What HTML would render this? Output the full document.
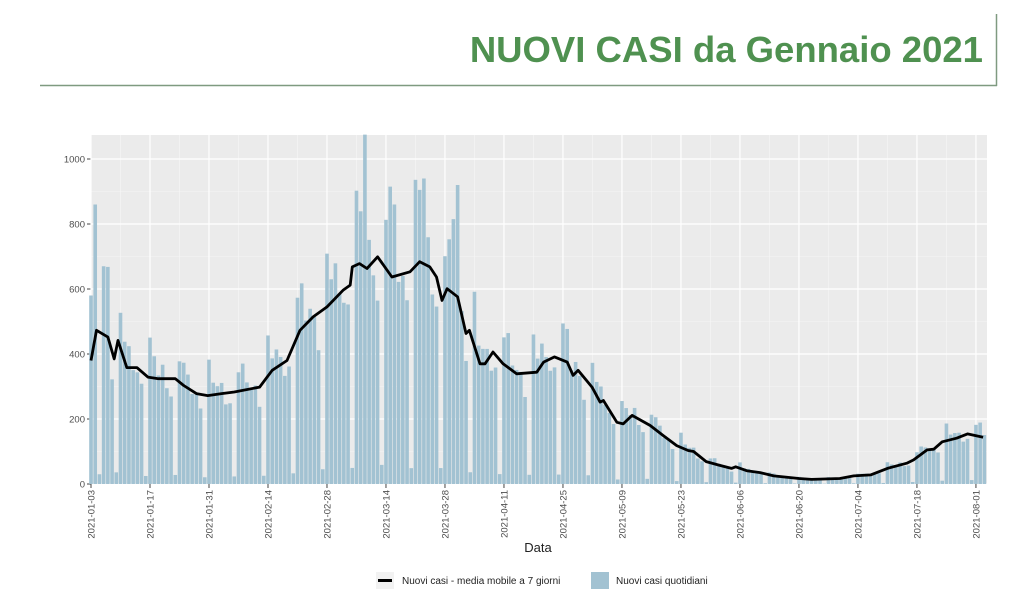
<!DOCTYPE html>
<html><head><meta charset="utf-8"><style>
body{margin:0;background:#fff;width:1024px;height:615px;overflow:hidden;font-family:"Liberation Sans",sans-serif}
</style></head><body>
<svg id="s" width="1024" height="615" xmlns="http://www.w3.org/2000/svg" style="position:absolute;left:0;top:0">
<text x="983" y="62" text-anchor="end" font-family="Liberation Sans" font-weight="bold" font-size="36.5" fill="#4f9150">NUOVI CASI da Gennaio 2021</text>
<line x1="40" y1="85.5" x2="997" y2="85.5" stroke="#7f9a80" stroke-width="1.5"/>
<line x1="996.5" y1="14" x2="996.5" y2="86" stroke="#7f9a80" stroke-width="1.5"/>
<rect x="91" y="135" width="896" height="349" fill="#ebebeb"/>
<g id="g"></g>
<text x="538" y="552" text-anchor="middle" font-size="13" fill="#222">Data</text>
<rect x="376" y="572" width="18" height="17" fill="#f2f2f2"/>
<line x1="378" y1="580.5" x2="392" y2="580.5" stroke="#000" stroke-width="3"/>
<text x="402" y="584" font-size="10" fill="#222">Nuovi casi - media mobile a 7 giorni</text>
<rect x="591" y="572" width="18" height="17" fill="#a2c2d2"/>
<text x="616" y="584" font-size="10" fill="#222">Nuovi casi quotidiani</text>
</svg>
<script>
var g=document.getElementById('g'),h='';
function X(d){return 91+d*4.214}function Y(v){return 484-v*0.325}
for(var v=100;v<=1000;v+=200)h+='<line x1="91" x2="987" y1="'+Y(v)+'" y2="'+Y(v)+'" stroke="#f6f6f6" stroke-width="0.6"/>';
for(var d=7;d<213;d+=14)h+='<line y1="135" y2="484" x1="'+X(d)+'" x2="'+X(d)+'" stroke="#f6f6f6" stroke-width="0.6"/>';
for(var v=0;v<=1000;v+=200){h+='<line x1="91" x2="987" y1="'+Y(v)+'" y2="'+Y(v)+'" stroke="#fff" stroke-width="1.2"/>';
h+='<line x1="87" x2="91" y1="'+Y(v)+'" y2="'+Y(v)+'" stroke="#444"/>';
h+='<text x="85" y="'+(Y(v)+3.5)+'" text-anchor="end" font-size="9.5" fill="#4d4d4d">'+v+'</text>';}
var labs=['01-03','01-17','01-31','02-14','02-28','03-14','03-28','04-11','04-25','05-09','05-23','06-06','06-20','07-04','07-18','08-01'];
for(var i=0;i<16;i++){var x=X(i*14);h+='<line y1="135" y2="484" x1="'+x+'" x2="'+x+'" stroke="#fff" stroke-width="1.2"/>';
h+='<line y1="484" y2="488" x1="'+x+'" x2="'+x+'" stroke="#444"/>';
h+='<text transform="translate('+(x+3.5)+',490) rotate(-90)" text-anchor="end" font-size="9.5" fill="#4d4d4d">2021-'+labs[i]+'</text>';}
var K=[[0,380],[1.3,473],[4,452],[5.5,385],[6.4,442],[8.5,358],[10.9,358],[13.5,329],[16,324],[20,324],[22,303],[25,278],[27.7,272],[31,278],[34,283],[40,298],[43,350],[46.5,380],[49.6,473],[52.7,514],[56,545],[59.8,596],[61.5,612],[62,668],[63.7,678],[65.5,663],[68,699],[71.4,637],[75.7,653],[78,684],[80.4,668],[82,637],[83.3,565],[84.5,601],[87,576],[89,463],[89.8,473],[92.3,370],[93.5,370],[95.4,406],[97.8,370],[101,339],[105.8,344],[107.4,375],[110,391],[113,375],[114.4,334],[115.6,350],[118.9,298],[120.8,252],[121.6,257],[124.8,190],[126.3,185],[128.4,211],[132.7,180],[135.8,149],[139,118],[141.7,103],[143,100],[146,69],[149,58],[152,48],[153,53],[155.6,41],[158.8,35],[162,25],[168,17],[171,14],[177.7,17],[181,25],[185,28],[189,48],[193.6,64],[195.2,74],[198.4,105],[200,107],[202,130],[205.4,141],[208,154],[211.7,144]];
function ma(d){for(var i=0;i<K.length-1;i++)if(d<=K[i+1][0]){var t=(d-K[i][0])/(K[i+1][0]-K[i][0]);return K[i][1]+t*(K[i+1][1]-K[i][1]);}return K[K.length-1][1];}
var F=[1.3,1.2,1.1,1.05,0.95,0.85,0.08],O={0:580,1:860,2:30,3:670,4:668,65:1075,71:915,72:860,79:940,78:905,87:920,86:815};
for(var d=0;d<=212;d++){var m=ma(d),v=O[d]!==undefined?O[d]:m*F[d%7]*(1+0.08*Math.sin(d*2.3));
h+='<rect x="'+(X(d)-1.8)+'" y="'+Y(v)+'" width="3.6" height="'+(v*0.325)+'" fill="#a2c2d2"/>';}
var p='';for(var i=0;i<K.length;i++)p+=(i?'L':'M')+X(K[i][0]).toFixed(1)+' '+Y(K[i][1]).toFixed(1);
h+='<path d="'+p+'" fill="none" stroke="#000" stroke-width="2.8" stroke-linejoin="round"/>';
g.innerHTML=h;
</script>
</body></html>
